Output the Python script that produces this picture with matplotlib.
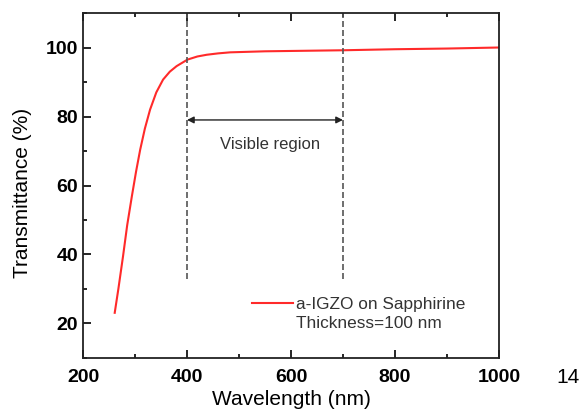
import matplotlib.pyplot as plt
from matplotlib.lines import Line2D
from matplotlib.ticker import MultipleLocator

plt.rcParams['font.family'] = ['Liberation Sans', 'DejaVu Sans']

wavelength = [261, 268, 277, 285, 294, 302, 310, 319, 329, 341, 354, 367, 380,
              401, 420, 438, 460, 483, 550, 600, 700, 800, 900, 1000]
transmittance = [23.1, 30.0, 39.5, 48.5, 56.9, 64.0, 70.4, 76.5, 82.0, 87.0, 90.7,
                 93.0, 94.6, 96.5, 97.4, 97.9, 98.3, 98.6, 98.9, 99.0, 99.2, 99.5,
                 99.7, 100.0]
visible_bounds = [400, 700]

fig = plt.figure(figsize=(5.87, 4.17), dpi=100)
ax = fig.add_axes([0.1414, 0.1415, 0.7086, 0.8273])

line, = ax.plot(wavelength, transmittance, color='#ff2a2a', lw=1.5)

for xb in visible_bounds:
    ax.plot([xb, xb], [33, 110], color='#555555', ls=(0, (3.6, 1.8)), lw=1.2)

ax.annotate('', xy=(visible_bounds[0], 79), xytext=(visible_bounds[1], 79),
            arrowprops=dict(arrowstyle='<|-|>', color='#222222', lw=1.0,
                            mutation_scale=10, shrinkA=0, shrinkB=0))
ax.text(560, 72, 'Visible region', ha='center', va='center', fontsize=12,
        color='#333333')

ax.set_xlim(200, 1000)
ax.set_ylim(10, 110)
ax.xaxis.set_major_locator(MultipleLocator(200))
ax.xaxis.set_minor_locator(MultipleLocator(100))
ax.yaxis.set_minor_locator(MultipleLocator(10))
ax.set_yticks([20, 40, 60, 80, 100])
ax.tick_params(which='both', direction='in', top=True, right=False)
ax.tick_params(which='major', length=6, width=1.2, labelsize=14)
ax.tick_params(which='minor', length=3, width=1.2)
ax.tick_params(axis='x', which='major', pad=8)
for lab in ax.get_xticklabels() + ax.get_yticklabels():
    lab.set_fontweight('bold')
for sp in ax.spines.values():
    sp.set_linewidth(1.3)
    sp.set_color('#222222')

ax.set_xlabel('Wavelength (nm)', fontsize=15, labelpad=3)
ax.set_ylabel('Transmittance (%)', fontsize=15)
ax.yaxis.set_label_coords(-0.123, 0.478)

blank = Line2D([], [], alpha=0)
ax.legend([line, blank], ['a-IGZO on Sapphirine', 'Thickness=100 nm'],
          loc='upper left', bbox_to_anchor=(0.406, 0.178), frameon=False,
          borderpad=0, borderaxespad=0, fontsize=12.4, handlelength=2.4,
          handletextpad=0.17, labelspacing=0.25, labelcolor='#333333')

fig.text(0.948, 0.095, '14', fontsize=15, ha='left', va='center')

fig.savefig('out.png', dpi=100)
